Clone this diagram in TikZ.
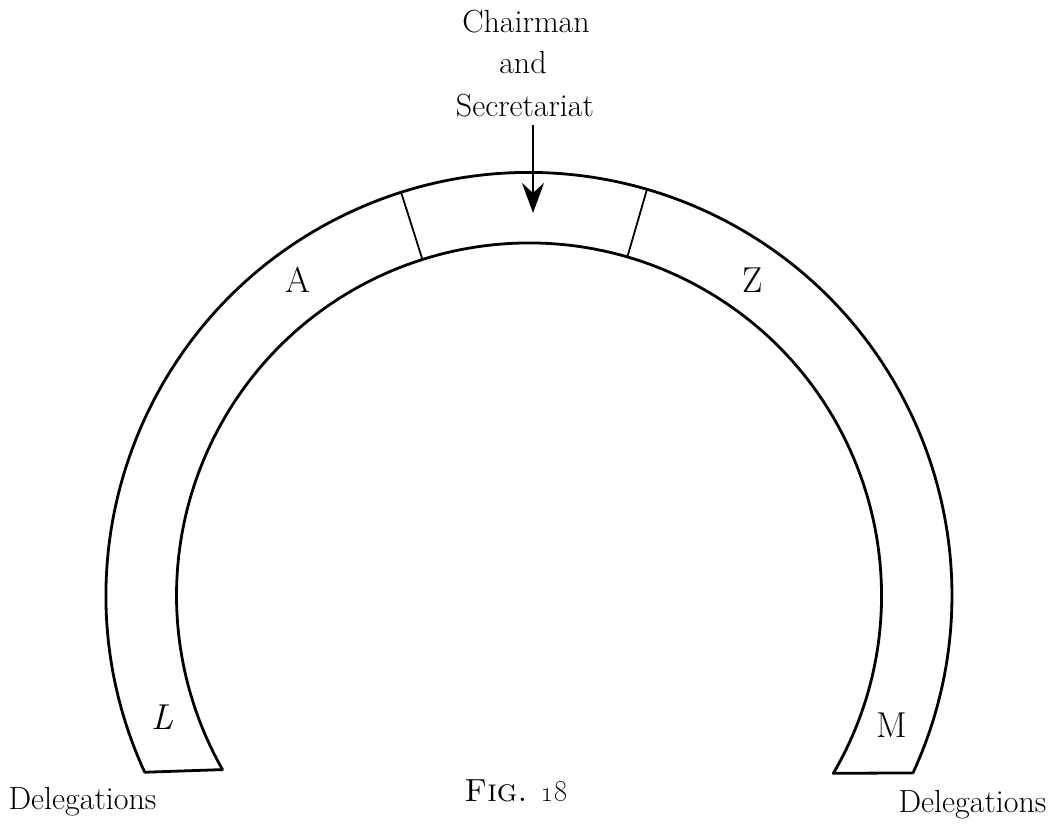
\documentclass[tikz,border=0pt]{standalone}
\usetikzlibrary{arrows.meta}
\begin{document}
\begin{tikzpicture}[x=1pt,y=1pt,
  band/.style={line width=2.8pt, line join=round},
  divider/.style={line width=1.8pt},
  pointer/.style={line width=2pt, -{Stealth[length=30pt,width=22pt,inset=10pt]}},
  caption/.style={font=\fontsize{32}{36}\selectfont, inner sep=0pt, anchor=base},
  seat/.style={font=\fontsize{36}{40}\selectfont, inner sep=0pt, anchor=base}]
\useasboundingbox (0,0) rectangle (1055,826);
\coordinate (c) at (529,230.5);
\path (c) ++(204.7:423) coordinate (oL);
\path (c) ++(-30.3:352.5) coordinate (iR);
\path (c) ++(107.6:423) coordinate (d1o);
\path (c) ++(107.6:352.5) coordinate (d1i);
\path (c) ++(73.8:423) coordinate (d2o);
\path (c) ++(73.8:352.5) coordinate (d2i);
% horseshoe band
\draw[band] (oL) arc[start angle=204.7, end angle=-24.8, radius=423]
  -- (iR) arc[start angle=-30.3, end angle=209.6, radius=352.5] -- cycle;
\draw[divider] (d1o) -- (d1i);
\draw[divider] (d2o) -- (d2i);
% top labels and arrow
\node[caption] (chair) at (526,793) {Chairman};
\node[caption] (and) at (523,752) {and};
\node[caption] (secr) at (525,709) {Secretariat};
\coordinate (atop) at (533,701);
\coordinate (atip) at (533,613);
\draw[pointer] (atop) -- (atip);
% seat labels
\node[seat] (A) at (298,533) {A};
\node[seat] (Z) at (753,533) {Z};
\node[seat] (L) at (163,96) {\itshape L};
\node[seat] (M) at (892,88) {M};
% bottom texts
\node[caption] (delL) at (82.5,16) {Delegations};
\node[caption] (delR) at (972.5,13) {Delegations};
\node[caption] (fig) at (516,24) {\textsc{Fig.} \oldstylenums{18}};
\end{tikzpicture}
\end{document}
